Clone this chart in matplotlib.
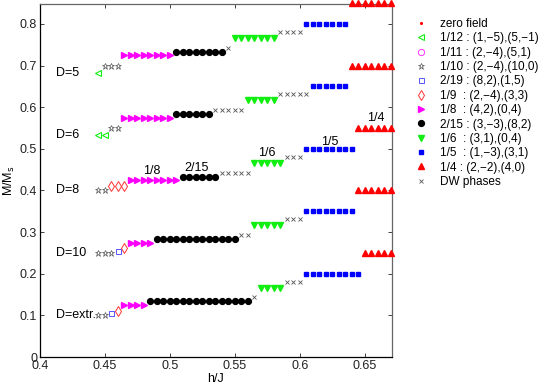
import matplotlib
matplotlib.use("Agg")
import matplotlib.pyplot as plt
from matplotlib.lines import Line2D

plt.rcParams['font.family'] = ['Liberation Sans', 'DejaVu Sans']

# ---- data -------------------------------------------------------------
# magnetisation of each plateau phase
phase_M = {'1/12': 1/12, '1/11': 1/11, '1/10': 1/10, '2/19': 2/19, '1/9': 1/9,
           '1/8': 1/8, '2/15': 2/15, '1/6': 1/6, '1/5': 1/5, '1/4': 1/4}
dw_M_low = 0.143    # DW phase between 2/15 and 1/6
dw_M_high = 0.181   # DW phase between 1/6 and 1/5

row_labels = ['D=5', 'D=6', 'D=8', 'D=10', 'D=extr.']
row_offsets = [0.6, 0.45, 0.3, 0.15, 0.0]
row_label_y = [0.683, 0.534, 0.400, 0.250, 0.100]

# h positions of each phase per row
rows = [
    {  # D=5
        '1/12': [0.445],
        '1/10': [0.45, 0.455, 0.46],
        '1/8': [0.465, 0.47, 0.475, 0.48, 0.485, 0.49, 0.495, 0.50],
        '2/15': [0.505, 0.51, 0.515, 0.52, 0.525, 0.53, 0.535, 0.54],
        'DWlow': [0.545],
        '1/6': [0.55, 0.555, 0.56, 0.565, 0.57, 0.575, 0.58],
        'DWhigh': [0.585, 0.59, 0.595, 0.60],
        '1/5': [0.605, 0.61, 0.615, 0.62, 0.625, 0.63, 0.635],
        '1/4': [0.64, 0.645, 0.65, 0.655, 0.66, 0.665, 0.67],
    },
    {  # D=6
        '1/12': [0.445, 0.45],
        '1/10': [0.455, 0.46],
        '1/8': [0.465, 0.47, 0.475, 0.48, 0.485, 0.49, 0.495, 0.50],
        '2/15': [0.505, 0.51, 0.515, 0.52, 0.525, 0.53],
        'DWlow': [0.535, 0.54, 0.545, 0.55, 0.555],
        '1/6': [0.56, 0.565, 0.57, 0.575, 0.58],
        'DWhigh': [0.585, 0.59, 0.595, 0.60, 0.605],
        '1/5': [0.61, 0.615, 0.62, 0.625, 0.63, 0.635],
        '1/4': [0.64, 0.645, 0.65, 0.655, 0.66, 0.665, 0.67],
    },
    {  # D=8
        '1/10': [0.445, 0.45],
        '1/9': [0.455, 0.46, 0.465],
        '1/8': [0.47, 0.475, 0.48, 0.485, 0.49, 0.495, 0.50, 0.505],
        '2/15': [0.51, 0.515, 0.52, 0.525, 0.53, 0.535],
        'DWlow': [0.54, 0.545, 0.55, 0.555, 0.56],
        '1/6': [0.565, 0.57, 0.575, 0.58, 0.585],
        'DWhigh': [0.59, 0.595, 0.60],
        '1/5': [0.605, 0.61, 0.615, 0.62, 0.625, 0.63, 0.635, 0.64],
        '1/4': [0.645, 0.65, 0.655, 0.66, 0.665, 0.67],
    },
    {  # D=10
        '1/10': [0.445, 0.45, 0.455],
        '2/19': [0.46],
        '1/9': [0.465],
        '1/8': [0.47, 0.475, 0.48, 0.485],
        '2/15': [0.49, 0.495, 0.50, 0.505, 0.51, 0.515, 0.52, 0.525, 0.53,
                 0.535, 0.54, 0.545, 0.55],
        'DWlow': [0.555, 0.56],
        '1/6': [0.565, 0.57, 0.575, 0.58, 0.585],
        'DWhigh': [0.59, 0.595, 0.60],
        '1/5': [0.605, 0.61, 0.615, 0.62, 0.625, 0.63, 0.635, 0.64],
        '1/4': [0.645, 0.65, 0.655, 0.66, 0.665, 0.67],
    },
    {  # D=extr.
        '1/10': [0.445, 0.45],
        '2/19': [0.455],
        '1/9': [0.46],
        '1/8': [0.465, 0.47, 0.475, 0.48],
        '2/15': [0.485, 0.49, 0.495, 0.50, 0.505, 0.51, 0.515, 0.52, 0.525,
                 0.53, 0.535, 0.54, 0.545, 0.55, 0.555, 0.56],
        'DWlow': [0.565],
        '1/6': [0.57, 0.575, 0.58, 0.585],
        'DWhigh': [0.59, 0.595, 0.60],
        '1/5': [0.605, 0.61, 0.615, 0.62, 0.625, 0.63, 0.635, 0.64, 0.645],
        '1/4': [0.65, 0.655, 0.66, 0.665, 0.67],
    },
]

# annotations on the D=8 row
ann_text = ['1/8', '2/15', '1/6', '1/5', '1/4']
ann_h = [0.486, 0.5205, 0.5744, 0.623, 0.658]
ann_M = [0.446, 0.454, 0.490, 0.5175, 0.575]

x_ticks = [0.4, 0.45, 0.5, 0.55, 0.6, 0.65]
x_ticklabels = ['0.4', '0.45', '0.5', '0.55', '0.6', '0.65']
y_ticks = [0, 0.1, 0.2, 0.3, 0.4, 0.5, 0.6, 0.7, 0.8]
y_ticklabels = ['0', '0.1', '0.2', '0.3', '0.4', '0.5', '0.6', '0.7', '0.8']

legend_labels = ['zero field',
                 '1/12 : (1,\u22125),(5,\u22121)',
                 '1/11 : (2,\u22124),(5,1)',
                 '1/10 : (2,\u22124),(10,0)',
                 '2/19 : (8,2),(1,5)',
                 '1/9  : (2,\u22124),(3,3)',
                 '1/8  : (4,2),(0,4)',
                 '2/15 : (3,\u22123),(8,2)',
                 '1/6  : (3,1),(0,4)',
                 '1/5  : (1,\u22123),(3,1)',
                 '1/4 : (2,\u22122),(4,0)',
                 'DW phases']

# ---- styles -----------------------------------------------------------
green = '#11ee11'
styles = {
    'zero': dict(marker='.', color='red', mfc='red', mec='red', ms=2.5),
    '1/12': dict(marker='<', color=green, mfc='none', mec=green, ms=4.5, mew=0.8),
    '1/11': dict(marker='o', color='#ff33ff', mfc='none', mec='#ff33ff', ms=4.5, mew=0.7),
    '1/10': dict(marker='*', color='#555555', mfc='none', mec='#555555', ms=4.5, mew=0.5),
    '2/19': dict(marker='s', color='#5555ff', mfc='none', mec='#5555ff', ms=3.6, mew=0.7),
    '1/9': dict(marker='d', color='#ff3333', mfc='none', mec='#ff3333', ms=5.0, mew=0.7),
    '1/8': dict(marker='>', color='#ff00ff', mfc='#ff00ff', mec='#ff00ff', ms=4.4),
    '2/15': dict(marker='o', color='black', mfc='black', mec='black', ms=4.2),
    '1/6': dict(marker='v', color=green, mfc=green, mec=green, ms=4.4),
    '1/5': dict(marker='s', color='#0000ff', mfc='#0000ff', mec='#0000ff', ms=3.4),
    '1/4': dict(marker='^', color='#ff0000', mfc='#ff0000', mec='#ff0000', ms=4.4),
    'DW': dict(marker='x', color='#555555', mfc='none', mec='#555555', ms=3.2, mew=0.6),
}

# ---- figure -----------------------------------------------------------
fig = plt.figure(figsize=(5.4, 3.84), dpi=100)
ax = fig.add_axes([40 / 540, 1 - 357 / 384, (392 - 40) / 540, (357 - 4) / 384])

for row, off in zip(rows, row_offsets):
    for key, hs in row.items():
        if key == 'DWlow':
            ys = [dw_M_low + off] * len(hs)
            st = styles['DW']
        elif key == 'DWhigh':
            ys = [dw_M_high + off] * len(hs)
            st = styles['DW']
        else:
            ys = [phase_M[key] + off] * len(hs)
            st = styles[key]
        ax.plot(hs, ys, linestyle='none', clip_on=False, zorder=3, **st)

for lab, y in zip(row_labels, row_label_y):
    ax.text(0.412, y, lab, fontsize=9, ha='left', va='center')

for t, h, m in zip(ann_text, ann_h, ann_M):
    ax.text(h, m, t, fontsize=9, ha='center', va='center')

ax.set_xlim(0.4, 0.6708)
ax.set_ylim(0, 0.848)
ax.set_xticks(x_ticks)
ax.set_xticklabels(x_ticklabels)
ax.set_yticks(y_ticks)
ax.set_yticklabels(y_ticklabels)
ax.tick_params(direction='in', length=3, width=0.6, top=True, right=True,
               labelsize=9, pad=2, colors='#222222')
for s in ['left', 'bottom']:
    ax.spines[s].set_color('black')
for s in ['top', 'right']:
    ax.spines[s].set_color('#666666')
for s in ax.spines.values():
    s.set_linewidth(0.9)

ax.set_xlabel('h/J', fontsize=9, labelpad=1)
ax.set_ylabel('M/M$_\\mathrm{s}$', fontsize=9, labelpad=2)

# legend
keys = ['zero', '1/12', '1/11', '1/10', '2/19', '1/9', '1/8', '2/15', '1/6', '1/5', '1/4', 'DW']
handles = [Line2D([], [], linestyle='none', **styles[k]) for k in keys]
fig.legend(handles, legend_labels, loc='upper left',
           bbox_to_anchor=(415 / 540, 1 - 18 / 384), frameon=False,
           fontsize=8.5, handlelength=1.0, handletextpad=1.1,
           labelspacing=0.2, borderpad=0, borderaxespad=0)

fig.savefig('out.png', dpi=100)
